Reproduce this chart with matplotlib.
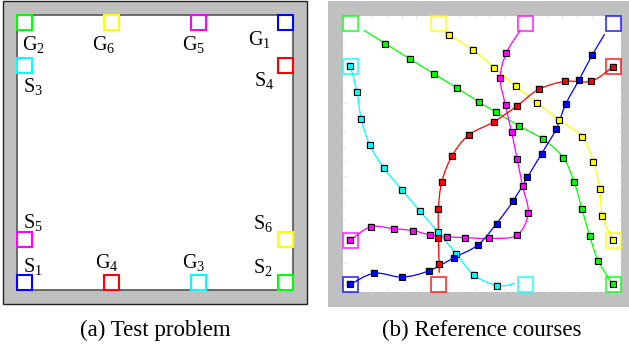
import numpy as np
import matplotlib
matplotlib.use("Agg")
import matplotlib.pyplot as plt
from matplotlib.patches import Rectangle, PathPatch
from matplotlib.path import Path
import matplotlib.transforms as mtransforms

plt.rcParams['font.family'] = ['Liberation Serif', 'DejaVu Serif']
plt.rcParams['mathtext.fontset'] = 'custom'
plt.rcParams['mathtext.rm'] = 'Liberation Serif'
plt.rcParams['mathtext.it'] = 'Liberation Serif:italic'

# ---------------- data (room coordinates, 0..100 both ways) ----------------
sq_size = 5.4
# start / goal squares: name, lower-left x, lower-left y, colour
sq_names = ['S1', 'S2', 'S3', 'S4', 'S5', 'S6', 'G1', 'G2', 'G3', 'G4', 'G5', 'G6']
sq_x = [0.0, 94.6, 0.0, 94.6, 0.0, 94.6, 94.6, 0.0, 63.1, 31.5, 63.1, 31.5]
sq_y = [0.0, 0.0, 79.0, 79.0, 15.8, 15.8, 94.6, 94.6, 0.0, 0.0, 94.6, 94.6]
sq_colors = ['#0000ff', '#00ff00', '#00ffff', '#ff0000', '#ff00ff', '#ffff00',
             '#0000ff', '#00ff00', '#00ffff', '#ff0000', '#ff00ff', '#ffff00']

# labels in panel (a): text, x, y (baseline)
lab_text = ['G$_2$', 'G$_6$', 'G$_5$', 'G$_1$', 'S$_3$', 'S$_4$',
            'S$_5$', 'S$_6$', 'S$_1$', 'G$_4$', 'G$_3$', 'S$_2$']
lab_x = [1.8, 27.2, 59.8, 83.7, 2.2, 85.9, 2.2, 85.5, 2.2, 28.3, 59.8, 85.5]
lab_y = [87.3, 87.3, 87.3, 89.1, 72.0, 74.2, 22.5, 22.2, 6.5, 8.0, 8.0, 6.2]

# reference courses (marked way points) + unmarked lead-in / lead-out points
green_x = [15.25, 24.13, 32.77, 41.18, 48.98, 54.86, 63.39, 72.03, 79.23, 83.19, 85.96, 88.72, 91.84, 97.0]
green_y = [90.0, 84.4, 79.0, 73.8, 68.8, 65.2, 60.1, 55.3, 48.7, 39.7, 30.1, 20.4, 11.2, 2.8]
green_in = (7.56, 94.8)

yellow_x = [38.18, 46.70, 54.38, 62.07, 69.87, 77.79, 85.96, 90.04, 92.32, 93.28, 97.0]
yellow_y = [93.1, 87.7, 81.3, 74.6, 68.5, 62.2, 56.3, 47.2, 37.4, 27.7, 18.7]
yellow_in = (35.4, 94.8)

magenta_x = [58.70, 56.54, 58.46, 60.63, 62.67, 64.59, 66.63, 62.43, 52.58, 44.06, 37.58, 31.21, 25.33, 18.37, 9.96, 2.64]
magenta_y = [86.5, 77.5, 67.6, 58.0, 48.1, 38.4, 28.5, 20.5, 19.4, 19.7, 20.0, 20.7, 22.2, 22.9, 23.6, 18.8]
magenta_in = (63.63, 94.6)

cyan_x = [2.64, 5.04, 6.60, 9.60, 14.77, 21.13, 27.73, 34.21, 40.70, 47.06, 55.46]
cyan_y = [81.8, 72.5, 62.6, 53.3, 44.8, 37.1, 29.3, 21.6, 13.9, 6.2, 2.3]
cyan_out = (61.83, 3.1)

red_x = [97.0, 89.32, 79.83, 70.35, 62.43, 54.14, 45.26, 39.26, 35.53, 34.33, 34.33, 34.57]
red_y = [81.5, 76.4, 76.3, 73.4, 67.3, 61.6, 56.9, 49.4, 39.9, 30.0, 19.7, 10.0]
red_out = (34.57, 7.0)

blue_x = [2.64, 11.28, 21.37, 30.97, 39.86, 48.62, 55.22, 61.10, 66.27, 71.43, 76.59, 80.19, 84.88, 89.68]
blue_y = [2.8, 6.8, 5.4, 7.7, 12.4, 17.1, 24.8, 32.8, 41.5, 50.1, 58.9, 68.2, 76.8, 85.9]
blue_out = (94.12, 93.4)

courses = [
    ('#00ff00', green_x, green_y, green_in, None),
    ('#ffff00', yellow_x, yellow_y, yellow_in, None),
    ('#ff00ff', magenta_x, magenta_y, magenta_in, None),
    ('#00ffff', cyan_x, cyan_y, None, cyan_out),
    ('#ff0000', red_x, red_y, None, red_out),
    ('#0000ff', blue_x, blue_y, None, blue_out),
]

captions = ['(a) Test problem', '(b) Reference courses']

# ---------------- helpers ----------------
def smooth_path(xs, ys):
    P = np.column_stack([xs, ys]).astype(float)
    n = len(P)
    verts = [P[0]]
    codes = [Path.MOVETO]
    for i in range(n - 1):
        p0 = P[i - 1] if i > 0 else P[i]
        p1, p2 = P[i], P[i + 1]
        p3 = P[i + 2] if i + 2 < n else P[i + 1]
        verts += [p1 + (p2 - p0) / 6.0, p2 - (p3 - p1) / 6.0, p2]
        codes += [Path.CURVE4] * 3
    return Path(verts, codes)

W, H = 629, 349
fig = plt.figure(figsize=(W / 100, H / 100), dpi=100)
GRAY = '#c0c0c0'

def inner_axes(x0, y0, x1, y1):
    # pixel box (top-down y) of the white room area
    return fig.add_axes([x0 / W, (H - y1) / H, (x1 - x0) / W, (y1 - y0) / H])

# ---------------- panel (a) ----------------
axA = inner_axes(17, 15, 293, 290)
axA.set_xlim(0, 100)
axA.set_ylim(0, 100)
axA.set_facecolor('none')
axA.add_patch(Rectangle((-5.07, -5.09), 110.14, 110.18, facecolor=GRAY,
                        edgecolor='#222222', lw=1.0, clip_on=False, zorder=0))
axA.add_patch(Rectangle((0, 0), 100, 100, facecolor='white', edgecolor='none',
                        zorder=0.5))
for s in axA.spines.values():
    s.set_color('#555555')
    s.set_linewidth(1.2)
axA.set_xticks([])
axA.set_yticks([])
for x, y, c in zip(sq_x, sq_y, sq_colors):
    axA.add_patch(Rectangle((x, y), sq_size, sq_size, facecolor='none',
                            edgecolor=c, lw=1.5, zorder=3, clip_on=False))
for t, x, y in zip(lab_text, lab_x, lab_y):
    axA.text(x, y, t, fontsize=14.5, ha='left', va='baseline', color='black')

# ---------------- panel (b) ----------------
axB = inner_axes(343, 16, 621, 292)
axB.set_xlim(0, 100)
axB.set_ylim(0, 100)
axB.set_facecolor('none')
axB.add_patch(Rectangle((-5.40, -5.43), 108.28, 110.86, facecolor=GRAY,
                        edgecolor='none', clip_on=False, zorder=0))
axB.add_patch(Rectangle((0, 0), 100, 100, facecolor='white', edgecolor='none',
                        zorder=0.5))
for s in axB.spines.values():
    s.set_visible(False)
ticks = np.arange(0, 20) * (100 / 19)
axB.set_xticks(ticks)
axB.set_yticks(ticks)
axB.tick_params(direction='in', length=2.5, width=0.7, color='#e6e6e6',
                labelbottom=False, labelleft=False, top=True, right=True)
for x, y, c in zip(sq_x, sq_y, sq_colors):
    axB.add_patch(Rectangle((x, y), sq_size, sq_size, facecolor='none',
                            edgecolor=c, lw=1.3, alpha=0.75, zorder=3, clip_on=False))

shadow = mtransforms.offset_copy(axB.transData, fig=fig, x=-1, y=1, units='dots')
for c, xs, ys, lead_in, lead_out in courses:
    px = list(xs)
    py = list(ys)
    if lead_in is not None:
        px = [lead_in[0]] + px
        py = [lead_in[1]] + py
    if lead_out is not None:
        px = px + [lead_out[0]]
        py = py + [lead_out[1]]
    axB.add_patch(PathPatch(smooth_path(px, py), facecolor='none', edgecolor=c,
                            lw=0.9, zorder=4))
    axB.plot(xs, ys, ls='none', marker='s', ms=4.2, mfc='#909090', mec='none',
             alpha=0.6, transform=shadow, zorder=4.5)
    axB.plot(xs, ys, ls='none', marker='s', ms=3.8, mfc=c, mec='black',
             mew=0.8, zorder=5)

# ---------------- captions ----------------
fig.text(155 / W, (H - 336) / H, captions[0], ha='center', va='baseline', fontsize=16.5)
fig.text(482 / W, (H - 336) / H, captions[1], ha='center', va='baseline', fontsize=16.5)

fig.savefig('out.png', dpi=100)
